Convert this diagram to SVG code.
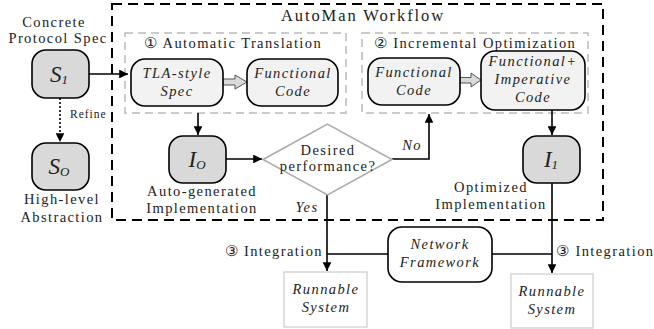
<svg xmlns="http://www.w3.org/2000/svg" width="654" height="329" viewBox="0 0 654 329">
<defs>
<style>
text{font-family:"Liberation Serif","Times New Roman",serif;font-size:14.5px;letter-spacing:1.4px;fill:#222}
.c{text-anchor:middle}
.i{font-style:italic}
.n{fill:#d9d9d9;stroke:#000;stroke-width:1.6}
.b{fill:#f2f2f2;stroke:#000;stroke-width:1.6}
.w{fill:#fff;stroke:#000;stroke-width:1.6}
.r{fill:#fff;stroke:#ccc;stroke-width:1.2}
.ln{fill:none;stroke:#000;stroke-width:1.6}
.ba{fill:#d9d9d9;stroke:#555;stroke-width:1}
.m{font-style:italic;font-size:23px;letter-spacing:0}
.s{font-style:italic;font-size:13px;letter-spacing:0}
</style>
<marker id="ah" viewBox="0 0 10 10" refX="10" refY="5" markerWidth="5.5" markerHeight="5.5" orient="auto" markerUnits="strokeWidth">
<path d="M0,0 L10,5 L0,10 z" fill="#000"/>
</marker>
</defs>
<rect width="654" height="329" fill="#fff"/>

<g id="workflow-box">
<rect x="112" y="4" width="491" height="216" fill="none" stroke="#000" stroke-width="2" stroke-dasharray="10,6"/>
<text x="363" y="21" class="c" style="font-size:16.5px;letter-spacing:1.9px">AutoMan Workflow</text>
</g>
<g id="translation-box">
<rect x="125" y="33" width="221" height="80" fill="none" stroke="#bbb" stroke-width="1.5" stroke-dasharray="8,5"/>
<text x="233" y="48" class="c">① Automatic Translation</text>
</g>
<g id="optimization-box">
<rect x="362" y="33" width="226" height="80" fill="none" stroke="#bbb" stroke-width="1.5" stroke-dasharray="8,5"/>
<text x="475" y="48" class="c">② Incremental Optimization</text>
</g>

<g id="connectors">
<path class="ln" d="M89,74 H128" marker-end="url(#ah)"/>
<path class="ln" d="M60,98 V142" stroke-dasharray="2,2" marker-end="url(#ah)"/>
<path class="ln" d="M198,113 V135" marker-end="url(#ah)"/>
<path class="ln" d="M226,159 H262" marker-end="url(#ah)"/>
<path class="ln" d="M392,159 H429 V114" marker-end="url(#ah)"/>
<path class="ln" d="M327,195 V271" marker-end="url(#ah)"/>
<path class="ln" d="M552,110 V135" marker-end="url(#ah)"/>
<path class="ln" d="M552,183 V273" marker-end="url(#ah)"/>
<path class="ln" d="M327,254 H388 M492,254 H552"/>
<path class="ba" d="M223,79 H235 V75 L247,82 L235,89 V85 H223 z"/>
<path class="ba" d="M460,77.5 H471 V73 L481,80 L471,87 V83 H460 z"/>
<text x="70" y="118" style="font-size:11.5px;letter-spacing:1px">Refine</text>
<text x="412" y="150" class="c i">No</text>
<text x="307" y="212" class="c i">Yes</text>
<text x="323" y="256" style="text-anchor:end">③ Integration</text>
<text x="556" y="256">③ Integration</text>
</g>

<g id="S1">
<text x="54" y="27" class="c">Concrete</text>
<text x="58" y="43" class="c">Protocol Spec</text>
<rect class="n" x="32" y="50" width="57" height="48" rx="14"/>
<text x="59" y="82" class="c"><tspan class="m">S</tspan><tspan class="s" dy="2">1</tspan></text>
</g>
<g id="S0">
<rect class="n" x="32" y="143" width="57" height="47" rx="14"/>
<text x="59" y="174" class="c"><tspan class="m">S</tspan><tspan class="s" dy="2">O</tspan></text>
<text x="62" y="204" class="c">High-level</text>
<text x="62" y="222" class="c">Abstraction</text>
</g>
<g id="TLA">
<rect class="b" x="131" y="59" width="92" height="47" rx="14"/>
<text x="177" y="78" class="c i">TLA-style</text>
<text x="177" y="96" class="c i">Spec</text>
</g>
<g id="Func1">
<rect class="b" x="247" y="59" width="91" height="47" rx="14"/>
<text x="293" y="78" class="c i">Functional</text>
<text x="293" y="96" class="c i">Code</text>
</g>
<g id="Func2">
<rect class="b" x="368" y="58" width="92" height="47" rx="14"/>
<text x="414" y="77" class="c i">Functional</text>
<text x="414" y="95" class="c i">Code</text>
</g>
<g id="FuncImp">
<rect class="b" x="481" y="51" width="104" height="59" rx="14"/>
<text x="533" y="66" class="c i">Functional+</text>
<text x="533" y="84" class="c i">Imperative</text>
<text x="533" y="102" class="c i">Code</text>
</g>
<g id="I0">
<rect class="n" x="169" y="136" width="57" height="47" rx="14"/>
<text x="197" y="167" class="c"><tspan class="m">I</tspan><tspan class="s" dy="2">O</tspan></text>
<text x="202" y="196" class="c">Auto-generated</text>
<text x="202" y="213" class="c">Implementation</text>
</g>
<g id="decision">
<path d="M263,159.5 L327.5,124 L392,159.5 L327.5,195 z" fill="#fff" stroke="#aaa" stroke-width="1.5"/>
<text x="328" y="155" class="c">Desired</text>
<text x="328" y="171" class="c">performance?</text>
</g>
<g id="I1">
<rect class="n" x="523" y="136" width="57" height="47" rx="14"/>
<text x="551" y="167" class="c"><tspan class="m">I</tspan><tspan class="s" dy="2">1</tspan></text>
<text x="491" y="192" class="c">Optimized</text>
<text x="491" y="209" class="c">Implementation</text>
</g>
<g id="network">
<rect class="w" x="388" y="227" width="104" height="55" rx="14"/>
<text x="440" y="249" class="c i">Network</text>
<text x="440" y="267" class="c i">Framework</text>
</g>
<g id="run1">
<rect class="r" x="284" y="272" width="83" height="55"/>
<text x="326" y="294" class="c i">Runnable</text>
<text x="326" y="312" class="c i">System</text>
</g>
<g id="run2">
<rect class="r" x="511" y="274" width="82" height="54"/>
<text x="552" y="296" class="c i">Runnable</text>
<text x="552" y="314" class="c i">System</text>
</g>
</svg>
